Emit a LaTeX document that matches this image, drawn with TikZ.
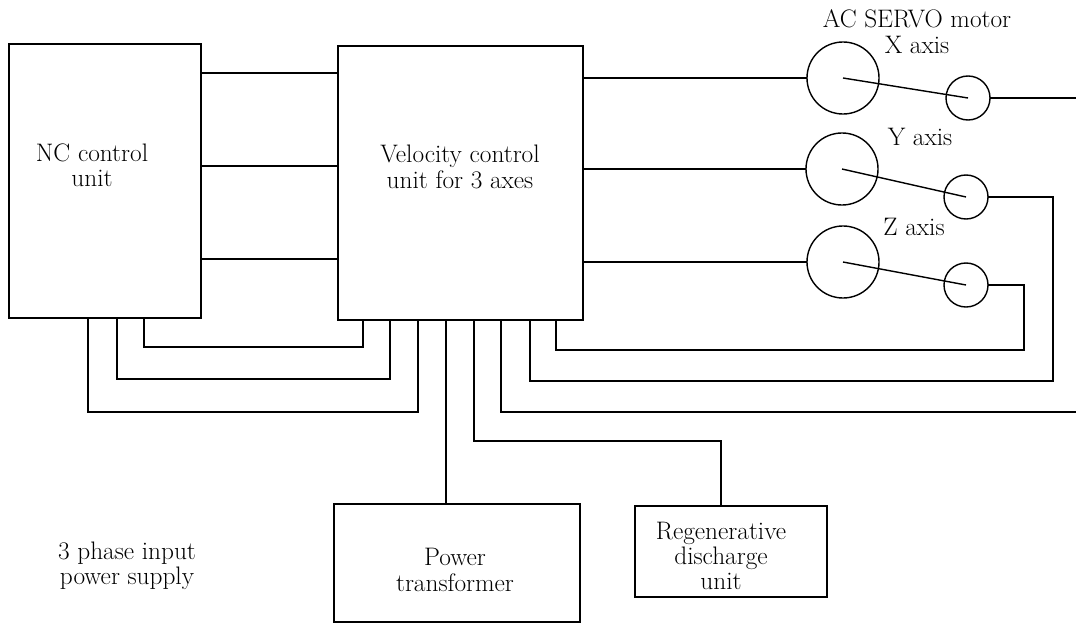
\documentclass[tikz,border=0pt]{standalone}
\usepackage{tikz}

\begin{document}
\begin{tikzpicture}[x=0.025cm, y=-0.025cm, line width=1pt,
    box/.style={draw, rectangle, inner sep=0pt, outer sep=0pt},
    motor/.style={draw, circle, inner sep=0pt, outer sep=0pt, minimum size=1.8cm},
    encoder/.style={draw, circle, inner sep=0pt, outer sep=0pt, minimum size=1.1cm},
    lbl/.style={align=center, font=\fontsize{18}{18}\selectfont}]

  \useasboundingbox (0,0) rectangle (1076,624);

  % units
  \node [box, minimum width=4.8cm, minimum height=6.85cm] (nc) at (105,181) {};
  \node [box, minimum width=6.125cm, minimum height=6.85cm] (vel) at (460.5,183) {};
  \node [box, minimum width=6.15cm, minimum height=2.95cm] (pt) at (457,563) {};
  \node [box, minimum width=4.8cm, minimum height=2.275cm] (regen) at (731,551.5) {};

  \node [lbl] (nctext) at (92,165) {NC control\\unit};
  \node [lbl] (veltext) at (460,167) {Velocity control\\unit for 3 axes};
  \node [lbl] (pttext) at (455,570) {Power\\transformer};
  \node [lbl] (regentext) at (721,556) {Regenerative\\discharge\\unit};
  \node [lbl] (supply) at (127,566) {3 phase input\\power supply};

  % motors
  \node [motor] (mxb) at (843,78) {};
  \node [encoder] (mxs) at (968,98) {};
  \node [motor] (myb) at (842,169) {};
  \node [encoder] (mys) at (966,197) {};
  \node [motor] (mzb) at (843,262) {};
  \node [encoder] (mzs) at (966,285) {};

  \node [lbl] (title) at (917,19) {AC SERVO motor};
  \node [lbl] (xlab) at (917,45) {X axis};
  \node [lbl] (ylab) at (920,137) {Y axis};
  \node [lbl] (zlab) at (914,227) {Z axis};

  \draw (mxb.center) -- (mxs.center);
  \draw (myb.center) -- (mys.center);
  \draw (mzb.center) -- (mzs.center);

  % NC to velocity unit
  \foreach \y in {73,166,259}
    \draw (nc.east |- 0,\y) -- (vel.west |- 0,\y);

  % velocity unit to motors
  \draw (vel.east |- mxb) -- (mxb.west);
  \draw (vel.east |- myb) -- (myb.west);
  \draw (vel.east |- mzb) -- (mzb.west);

  % loops under the units
  \draw (nc.south -| 144,0) -- ++(0,29) -| (vel.south -| 363,0);
  \draw (nc.south -| 117,0) -- ++(0,61) -| (vel.south -| 390,0);
  \draw (nc.south -| 88,0) -- ++(0,94) -| (vel.south -| 418,0);

  \draw (vel.south -| 446,0) -- (pt.north -| 446,0);
  \draw (vel.south -| 474,0) -- ++(0,121) -| (regen.north -| 721,0);

  % feedback from the encoders
  \coordinate (xr1) at (1076,98);
  \coordinate (xr2) at (1076,412);
  \draw (mxs.east) -- (xr1);
  \draw (vel.south -| 501,0) |- (xr2);
  \draw (mys.east) -| (1053,381) -| (vel.south -| 530,0);
  \draw (mzs.east) -| (1024,350) -| (vel.south -| 556,0);

\end{tikzpicture}
\end{document}
